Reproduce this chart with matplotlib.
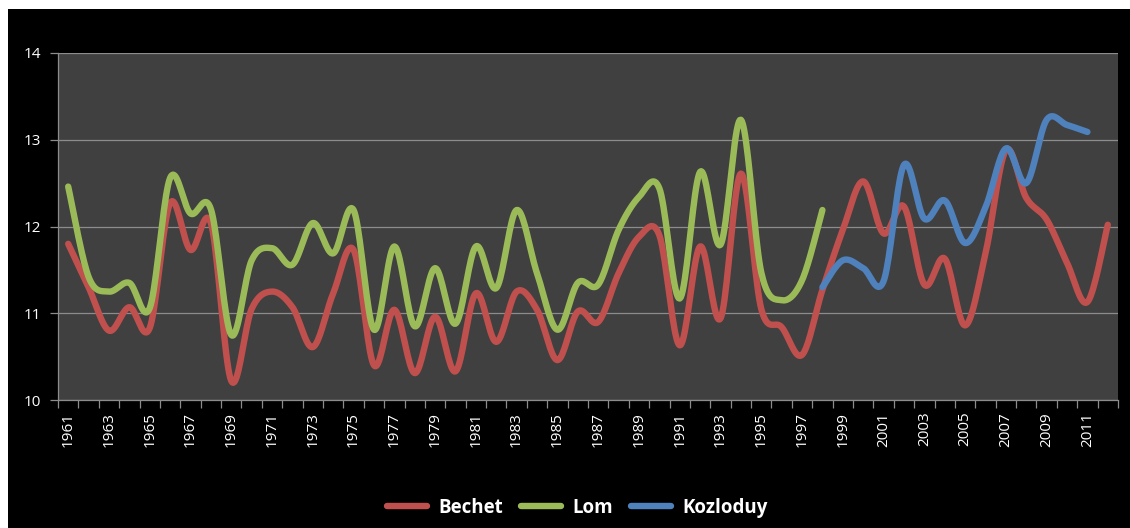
import numpy as np
import matplotlib
matplotlib.use("Agg")
import matplotlib.pyplot as plt
from matplotlib.patches import Rectangle
from matplotlib.lines import Line2D

years = list(range(1961, 2013))
bechet = [11.80, 11.30, 10.80, 11.07, 10.83, 12.27, 11.73, 12.04, 10.22, 11.05,
          11.25, 11.07, 10.61, 11.23, 11.73, 10.40, 11.04, 10.31, 10.96, 10.33,
          11.23, 10.67, 11.25, 11.04, 10.46, 11.02, 10.90, 11.46, 11.88, 11.90,
          10.63, 11.77, 10.94, 12.61, 11.05, 10.84, 10.52, 11.27, 11.96, 12.52,
          11.92, 12.23, 11.33, 11.63, 10.86, 11.69, 12.88, 12.33, 12.08, 11.58,
          11.13, 12.02]
lom_years = list(range(1961, 1999))
lom = [12.46, 11.42, 11.25, 11.35, 11.06, 12.56, 12.15, 12.20, 10.75, 11.61,
       11.75, 11.56, 12.04, 11.69, 12.19, 10.81, 11.77, 10.85, 11.52, 10.88,
       11.77, 11.29, 12.19, 11.46, 10.81, 11.35, 11.33, 11.96, 12.34, 12.44,
       11.17, 12.63, 11.79, 13.23, 11.47, 11.15, 11.38, 12.19]
koz_years = list(range(1998, 2012))
kozloduy = [11.30, 11.61, 11.52, 11.37, 12.71, 12.09, 12.30, 11.81, 12.22, 12.90,
            12.50, 13.23, 13.17, 13.09]
series_names = ["Bechet", "Lom", "Kozloduy"]
colors = ["#C0504D", "#9BBB59", "#4F81BD"]


def smooth(x, y, n=20):
    x = np.asarray(x, float)
    y = np.asarray(y, float)
    pts = np.column_stack([x, y])
    out = []
    m = len(pts)
    for i in range(m - 1):
        p0 = pts[i - 1] if i > 0 else pts[i]
        p1 = pts[i]
        p2 = pts[i + 1]
        p3 = pts[i + 2] if i + 2 < m else pts[i + 1]
        c1 = p1 + (p2 - p0) / 6.0
        c2 = p2 - (p3 - p1) / 6.0
        t = np.linspace(0, 1, n, endpoint=(i == m - 2))[:, None]
        seg = ((1 - t) ** 3) * p1 + 3 * ((1 - t) ** 2) * t * c1 + 3 * (1 - t) * t ** 2 * c2 + t ** 3 * p2
        out.append(seg)
    out = np.vstack(out)
    return out[:, 0], out[:, 1]


plt.rcParams['font.family'] = ['Open Sans', 'DejaVu Sans']

fig = plt.figure(figsize=(11.30, 5.28), dpi=100, facecolor='black')
fig.patches.append(Rectangle((0, 1 - 9 / 528), 1, 9 / 528, transform=fig.transFigure,
                             facecolor='white', edgecolor='none', zorder=0))
fig.patches.append(Rectangle((0, 0), 8 / 1130, 1, transform=fig.transFigure,
                             facecolor='white', edgecolor='none', zorder=0))
ax = fig.add_axes([58 / 1130, 128 / 528, 1060 / 1130, 347 / 528])
ax.set_facecolor('#404040')

idx = {y: i for i, y in enumerate(years)}
for name, xs, ys, c in [("Bechet", years, bechet, colors[0]),
                        ("Lom", lom_years, lom, colors[1]),
                        ("Kozloduy", koz_years, kozloduy, colors[2])]:
    xi = [idx[v] for v in xs]
    sx, sy = smooth(xi, ys)
    ax.plot(sx, sy, color=c, lw=4.6, solid_capstyle='round', solid_joinstyle='round',
            label=name, zorder=3)

ax.set_xlim(-0.5, len(years) - 0.5)
ax.set_ylim(10, 14)
ax.set_yticks([10, 11, 12, 13, 14])
ax.grid(axis='y', color='#8c8c8c', lw=0.9, zorder=1)
ax.set_axisbelow(True)

ax.set_xticks(np.arange(-0.5, len(years), 1.0))
ax.set_xticklabels([])
ax.set_xticks(np.arange(0, len(years), 2), minor=True)
ax.set_xticklabels([str(y) for y in years[::2]], minor=True, rotation=90,
                   color='white', fontsize=11)
ax.tick_params(axis='x', which='major', direction='out', length=6, color='#8c8c8c', width=0.9)
ax.tick_params(axis='x', which='minor', length=0, pad=8.5)
ax.tick_params(axis='y', direction='out', length=6, color='#8c8c8c', width=0.9,
               labelcolor='white', labelsize=11, pad=6)

for s in ['top', 'right']:
    ax.spines[s].set_visible(False)
for s in ['left', 'bottom']:
    ax.spines[s].set_color('#8c8c8c')
    ax.spines[s].set_linewidth(0.9)

handles = [Line2D([0], [0], color=c, lw=4.6, solid_capstyle='round') for c in colors]
leg = fig.legend(handles, series_names, loc='center', bbox_to_anchor=(0.511, 20 / 528),
                 ncol=3, frameon=False, handlelength=2.1, columnspacing=1.0,
                 handletextpad=0.6, prop={'weight': 'bold', 'size': 13.5})
for t in leg.get_texts():
    t.set_color('white')

fig.savefig('out.png', dpi=100, facecolor=fig.get_facecolor())
